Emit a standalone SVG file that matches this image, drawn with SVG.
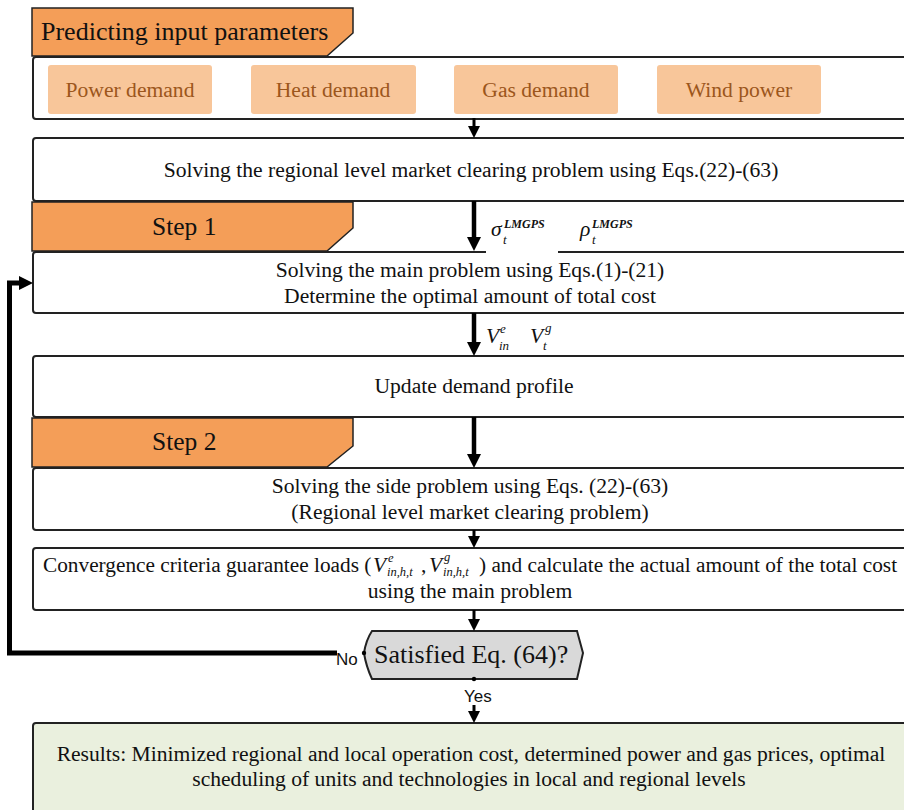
<svg xmlns="http://www.w3.org/2000/svg" width="904" height="810" viewBox="0 0 904 810">
<defs>
<style>
.box{fill:#fff;stroke:#222;stroke-width:2}
.tab{fill:#F49E58;stroke:#222;stroke-width:1.5}
.inp{fill:#F8C69A}
.t{font-family:"Liberation Serif","Times New Roman",serif;font-size:21.6px;fill:#111}
.cv{font-size:21.3px}
.tc{text-anchor:middle}
.it{font-style:italic}
.sm{font-size:13px}
.ss{font-size:12.5px}
.tl{font-family:"Liberation Serif","Times New Roman",serif;font-size:26px;fill:#111}
.it2{font-family:"Liberation Serif","Times New Roman",serif;font-size:21.6px;fill:#9C561C;text-anchor:middle}
.sans{font-family:"Liberation Sans",Arial,sans-serif;font-size:17px;fill:#111}
.ln{stroke:#000;fill:none}
</style>
<marker id="ah" viewBox="0 0 12 12" refX="0" refY="6" markerWidth="12" markerHeight="12" markerUnits="userSpaceOnUse" orient="auto">
<path d="M0,0 L12,6 L0,12 Z" fill="#000"/>
</marker>
<marker id="ahb" viewBox="0 0 14 14" refX="0" refY="7" markerWidth="14" markerHeight="14" markerUnits="userSpaceOnUse" orient="auto">
<path d="M0,0 L14,7 L0,14 Z" fill="#000"/>
</marker>
</defs>
<rect width="904" height="810" fill="#fff"/>

<g id="inputs">
<rect class="box" x="33" y="57" width="900" height="62" rx="3"/>
<g id="power"><rect class="inp" x="48" y="65" width="164" height="49" rx="3"/><text class="it2" x="130" y="97">Power demand</text></g>
<g id="heat"><rect class="inp" x="251" y="65" width="165" height="49" rx="3"/><text class="it2" x="333" y="97">Heat demand</text></g>
<g id="gas"><rect class="inp" x="454" y="65" width="164" height="49" rx="3"/><text class="it2" x="536" y="97">Gas demand</text></g>
<g id="wind"><rect class="inp" x="657" y="65" width="164" height="49" rx="3"/><text class="it2" x="739" y="97">Wind power</text></g>
</g>
<g id="tab-predict">
<polygon class="tab" points="32,8 353,8 353,33 327,56 32,56"/>
<text class="tl" x="41" y="40">Predicting input parameters</text>
</g>

<g id="regional">
<rect class="box" x="33" y="138" width="900" height="63" rx="3"/>
<text class="t tc" x="471" y="177">Solving the regional level market clearing problem using Eqs.(22)-(63)</text>
</g>

<g id="main">
<rect class="box" x="33" y="252" width="900" height="61" rx="3"/>
<text class="t tc" x="470" y="277">Solving the main problem using Eqs.(1)-(21)</text>
<text class="t tc" x="470" y="303">Determine the optimal amount of total cost</text>
</g>
<g id="step1">
<polygon class="tab" points="32,202 353,202 353,228 327,251 32,251"/>
<text class="tl" style="font-size:25.5px" x="152" y="235">Step 1</text>
</g>

<g id="update">
<rect class="box" x="33" y="356" width="900" height="61" rx="3"/>
<text class="t tc" x="474" y="393">Update demand profile</text>
</g>

<g id="side">
<rect class="box" x="33" y="468" width="900" height="62" rx="3"/>
<text class="t tc" x="470" y="493">Solving the side problem using Eqs. (22)-(63)</text>
<text class="t tc" x="470" y="519">(Regional level market clearing problem)</text>
</g>
<g id="step2">
<polygon class="tab" points="32,418 353,418 353,446 327,467 32,467"/>
<text class="tl" style="font-size:25.5px" x="152" y="450">Step 2</text>
</g>

<g id="convergence">
<rect class="box" x="33" y="548" width="900" height="62" rx="3"/>
<text class="t cv" x="43" y="572">Convergence criteria guarantee loads (</text>
<text class="t it" x="373" y="572">V</text>
<text class="t it ss" x="388" y="562">e</text>
<text class="t it ss" x="387" y="576">in,h,t</text>
<text class="t" x="421" y="572">,</text>
<text class="t it" x="429" y="572">V</text>
<text class="t it ss" x="444" y="561">g</text>
<text class="t it ss" x="443" y="576">in,h,t</text>
<text class="t cv" x="479" y="572">) and calculate the actual amount of the total cost</text>
<text class="t tc" x="470" y="598">using the main problem</text>
</g>

<g id="decision">
<path d="M372,631 L577,631 L583,653 L577,679 L372,679 Q366,666 364,653 Q366,640 372,631 Z" fill="#D9D9D9" stroke="#222" stroke-width="2"/>
<text class="t" style="font-size:26px" x="374" y="663">Satisfied Eq. (64)?</text>
</g>

<g id="results">
<rect x="33" y="723" width="900" height="110" rx="3" fill="#EAF0DE" stroke="#222" stroke-width="2"/>
<text class="t tc" x="471" y="761">Results: Minimized regional and local operation cost, determined power and gas prices, optimal</text>
<text class="t tc" x="469" y="786">scheduling of units and technologies in local and regional levels</text>
</g>

<g id="connectors">
<line class="ln" x1="474" y1="118" x2="474" y2="126" stroke-width="3" marker-end="url(#ah)"/>
<rect x="486" y="212" width="72" height="41" fill="#fff"/>
<line class="ln" x1="474" y1="201" x2="474" y2="237" stroke-width="4.5" marker-end="url(#ahb)"/>
<line class="ln" x1="474" y1="313" x2="474" y2="342" stroke-width="4.5" marker-end="url(#ahb)"/>
<line class="ln" x1="474" y1="417" x2="474" y2="454" stroke-width="4.5" marker-end="url(#ahb)"/>
<line class="ln" x1="474" y1="530" x2="474" y2="536" stroke-width="3" marker-end="url(#ah)"/>
<line class="ln" x1="474" y1="610" x2="474" y2="619" stroke-width="3" marker-end="url(#ah)"/>
<line class="ln" x1="474" y1="705" x2="474" y2="711" stroke-width="3" marker-end="url(#ah)"/>
<circle cx="474" cy="679" r="2.2" fill="#000"/>
<circle cx="364" cy="653" r="2.2" fill="#000"/>
<polyline class="ln" points="337,653 9.5,653 9.5,283 20,283" stroke-width="5"/>
<path d="M19,276 L33,283 L19,290 Z" fill="#000"/>
<text class="sans" x="336" y="665">No</text>
<text class="sans" x="464" y="702">Yes</text>
<text class="t it" x="491" y="236">σ</text>
<text class="t it" style="font-size:12px;font-weight:bold" x="504" y="228">LMGPS</text>
<text class="t it sm" x="503" y="244">t</text>
<text class="t it" x="580" y="236">ρ</text>
<text class="t it" style="font-size:12px;font-weight:bold" x="592" y="228">LMGPS</text>
<text class="t it sm" x="592" y="244">t</text>
<text class="t it" x="486" y="343">V</text>
<text class="t it sm" x="500" y="333">e</text>
<text class="t it sm" x="499" y="350">in</text>
<text class="t it" x="530" y="343">V</text>
<text class="t it sm" x="545" y="332">g</text>
<text class="t it sm" x="543" y="350">t</text>
</g>
</svg>
